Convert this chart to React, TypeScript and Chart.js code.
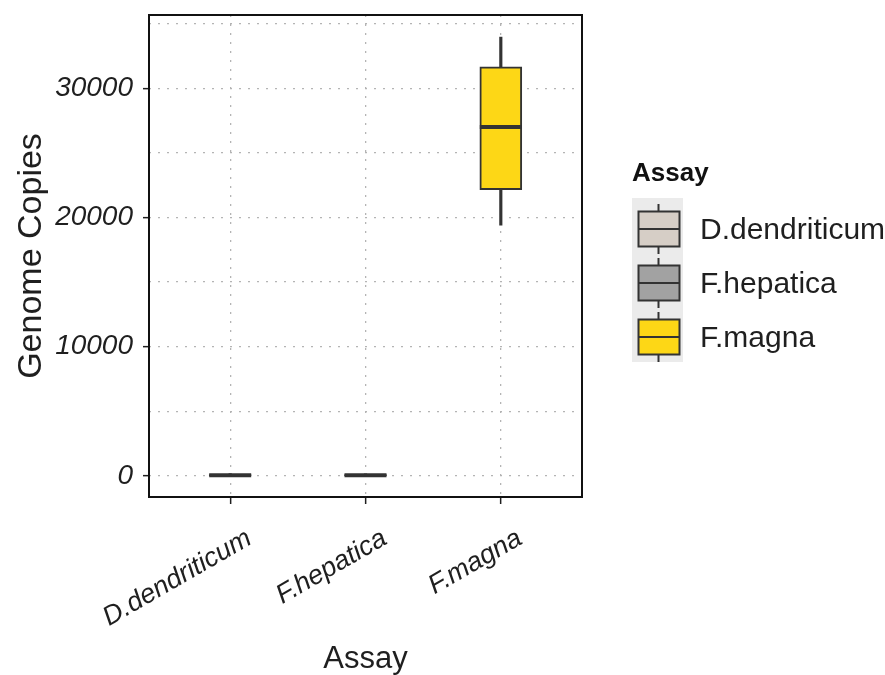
import React, { useEffect, useRef } from 'react';
import { Chart, registerables } from 'chart.js';

Chart.register(...registerables);

// ---- data ----
const CATEGORIES = ['D.dendriticum', 'F.hepatica', 'F.magna'];
const WHISKER_LOW = [0, 0, 19400];
const Q1 = [20, 15, 22150];
const MEDIAN = [60, 50, 27000];
const Q3 = [110, 95, 31650];
const WHISKER_HIGH = [180, 160, 33950];
const FILL_COLORS = ['#d6cec6', '#a2a2a2', '#fdd716'];
const Y_TICKS = [0, 5000, 10000, 15000, 20000, 25000, 30000, 35000];
const Y_LABEL_STEP = 10000;
const Y_MIN = -1630;
const Y_MAX = 35660;
const X_TITLE = 'Assay';
const Y_TITLE = 'Genome Copies';
const LEGEND_TITLE = 'Assay';

// ---- style ----
const FONT = '"Liberation Sans", Arial, sans-serif';
const BOX_W = 42;
const INK = '#1f1f1f';
const EDGE = '#333333';
const GRID = '#b4b4b4';

const extrasPlugin = {
  id: 'boxExtras',
  afterDatasetsDraw(chart: any) {
    const { ctx, scales } = chart;
    const x = scales.x;
    const y = scales.y;
    ctx.save();
    ctx.strokeStyle = EDGE;
    ctx.lineWidth = 4;
    MEDIAN.forEach((m, i) => {
      const cx = x.getPixelForValue(i + 1);
      const py = y.getPixelForValue(m);
      ctx.beginPath();
      ctx.moveTo(cx - BOX_W / 2, py);
      ctx.lineTo(cx + BOX_W / 2, py);
      ctx.stroke();
    });
    ctx.restore();
  },
  afterDraw(chart: any) {
    const { ctx, chartArea, scales } = chart;
    const x = scales.x;
    ctx.save();
    // panel frame
    ctx.strokeStyle = '#111';
    ctx.lineWidth = 2;
    ctx.strokeRect(chartArea.left, chartArea.top, chartArea.right - chartArea.left, chartArea.bottom - chartArea.top);

    // x tick labels (rotated 30deg)
    ctx.fillStyle = INK;
    ctx.font = `italic 27px ${FONT}`;
    ctx.textAlign = 'right';
    ctx.textBaseline = 'alphabetic';
    CATEGORIES.forEach((c, i) => {
      const px = x.getPixelForValue(i + 1);
      ctx.save();
      ctx.translate(px + 23, chartArea.bottom + 46);
      ctx.rotate(-Math.PI / 6);
      ctx.fillText(c, 0, 0);
      ctx.restore();
    });

    // axis titles
    ctx.textAlign = 'center';
    ctx.font = `31px ${FONT}`;
    ctx.fillText(X_TITLE, (chartArea.left + chartArea.right) / 2, 668);
    ctx.save();
    ctx.translate(32, (chartArea.top + chartArea.bottom) / 2);
    ctx.rotate(-Math.PI / 2);
    ctx.textBaseline = 'middle';
    ctx.font = `34px ${FONT}`;
    ctx.fillText(Y_TITLE, 0, 0);
    ctx.restore();

    // legend
    const lx = 632;
    ctx.textAlign = 'left';
    ctx.textBaseline = 'alphabetic';
    ctx.font = `bold 26px ${FONT}`;
    ctx.fillStyle = '#111';
    ctx.fillText(LEGEND_TITLE, lx, 181);
    const keyTop = 202;
    const keyH = 54;
    ctx.fillStyle = '#ebebeb';
    ctx.fillRect(lx, keyTop - 4, 51, keyH * CATEGORIES.length + 2);
    CATEGORIES.forEach((c, i) => {
      const cy = keyTop + keyH * i + keyH / 2;
      const cx = lx + 26.5;
      ctx.strokeStyle = EDGE;
      ctx.lineWidth = 2;
      ctx.beginPath();
      ctx.moveTo(cx, cy - 25);
      ctx.lineTo(cx, cy + 25);
      ctx.stroke();
      ctx.fillStyle = FILL_COLORS[i];
      ctx.fillRect(lx + 6.5, cy - 17.5, 41, 35);
      ctx.strokeRect(lx + 6.5, cy - 17.5, 41, 35);
      ctx.beginPath();
      ctx.moveTo(lx + 6.5, cy);
      ctx.lineTo(lx + 47.5, cy);
      ctx.stroke();
      ctx.fillStyle = INK;
      ctx.font = `30px ${FONT}`;
      ctx.fillText(c, 700, cy + 10);
    });
    ctx.restore();
  },
};

export default function App() {
  const ref = useRef<HTMLCanvasElement | null>(null);
  useEffect(() => {
    if (!ref.current) return;
    const boxData = CATEGORIES.map((_, i) => ({ x: i + 1, y: [Q1[i], Q3[i]] }));
    const whiskerData = CATEGORIES.map((_, i) => ({ x: i + 1, y: [WHISKER_LOW[i], WHISKER_HIGH[i]] }));
    const chart = new Chart(ref.current, {
      type: 'bar',
      data: {
        datasets: [
          {
            label: 'box',
            data: boxData as any,
            backgroundColor: FILL_COLORS,
            borderColor: EDGE,
            borderWidth: 2,
            borderSkipped: false,
            barThickness: BOX_W,
            grouped: false,
            order: 0,
          } as any,
          {
            label: 'whisker',
            data: whiskerData as any,
            backgroundColor: EDGE,
            borderWidth: 0,
            barThickness: 2.5,
            grouped: false,
            order: 1,
          } as any,
        ],
      },
      options: {
        responsive: false,
        animation: false,
        layout: { padding: { left: 0, top: 15, right: 303, bottom: 0 } },
        plugins: { legend: { display: false }, tooltip: { enabled: false } },
        scales: {
          x: {
            type: 'linear',
            offset: false,
            min: 0.4,
            max: 3.6,
            afterBuildTicks: (s: any) => {
              s.ticks = CATEGORIES.map((_, i) => ({ value: i + 1 }));
            },
            afterFit: (s: any) => {
              s.height = 178;
              s.paddingLeft = 0;
              s.paddingRight = 0;
            },
            ticks: { display: false },
            grid: {
              offset: false,
              color: GRID,
              lineWidth: 1.3,
              drawTicks: true,
              tickLength: 7,
              tickColor: INK,
              tickWidth: 1.5,
            },
            border: { display: false, dash: [2, 7] },
          } as any,
          y: {
            type: 'linear',
            min: Y_MIN,
            max: Y_MAX,
            afterBuildTicks: (s: any) => {
              s.ticks = Y_TICKS.map((v) => ({ value: v }));
            },
            afterFit: (s: any) => {
              s.width = 149;
              s.paddingTop = 0;
              s.paddingBottom = 0;
            },
            ticks: {
              padding: 10,
              color: INK,
              font: { family: FONT, size: 28, style: 'italic' },
              callback: (v: any) => (Number(v) % Y_LABEL_STEP === 0 ? String(v) : ''),
            },
            grid: {
              color: GRID,
              lineWidth: 1.3,
              tickLength: 6,
              tickWidth: 1.5,
              tickColor: (c: any) =>
                c.tick && c.tick.value % Y_LABEL_STEP === 0 ? INK : 'rgba(0,0,0,0)',
            },
            border: { display: false, dash: [2, 7] },
          } as any,
        },
      },
      plugins: [extrasPlugin],
    });
    return () => chart.destroy();
  }, []);
  return (
    <div style={{ position: 'fixed', left: 0, top: 0, width: 885, height: 675, background: '#fff' }}>
      <canvas ref={ref} width={885} height={675} />
    </div>
  );
}
